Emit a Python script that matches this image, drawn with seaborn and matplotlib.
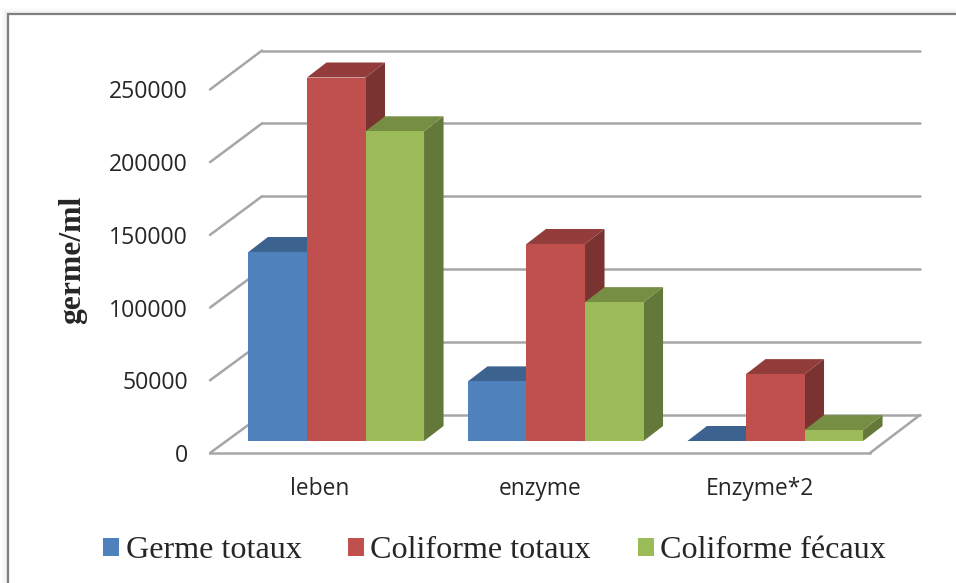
from matplotlib import pyplot as plt
from matplotlib.colors import to_rgb
from matplotlib.patches import Polygon, Rectangle
from matplotlib.transforms import IdentityTransform
import pandas as pd
import seaborn as sns

categories = ['leben', 'enzyme', 'Enzyme*2']
series_names = ['Germe totaux', 'Coliforme totaux', 'Coliforme fécaux']
germe_totaux = [130000, 41000, 0]
coliforme_totaux = [250000, 135500, 46000]
coliforme_fecaux = [213000, 95500, 7500]
y_ticks = [0, 50000, 100000, 150000, 200000, 250000]

W, H = 956, 583
colors = ['#4f81bd', '#c0504d', '#9bbb59']
grid_color = '#a6a6a6'
grid_lw = 1.8
depth_x, depth_y = 19.5, 15


# axes box from pixel edges of the picture
def box(left, top, right, bottom):
    return [left / W, 1 - bottom / H, (right - left) / W, (bottom - top) / H]


def shade(color, f):
    return tuple(c * f for c in to_rgb(color))


df = pd.DataFrame({'cat': categories * 3,
                   'serie': [s for s in series_names for _ in categories],
                   'val': germe_totaux + coliforme_totaux + coliforme_fecaux})

sns.set_style('white')
plt.rcParams['font.family'] = ['Open Sans', 'DejaVu Sans']

fig = plt.figure(figsize=(W / 100, H / 100), dpi=100)

# shadow and frame of the pasted chart
for i in range(7):
    fig.add_artist(Rectangle((8 - i, H - 600), 960, 586 + i, transform=IdentityTransform(),
                             fc=(0, 0, 0, 0.012), ec='none', zorder=-10))
fig.add_artist(Rectangle((8, -20), 970, H + 20 - 14, transform=IdentityTransform(),
                         fc='white', ec='#808080', lw=1.6, zorder=-9))

# back wall
ax_back = fig.add_axes(box(262, 50.5, 920, 415), zorder=1)
ax_back.set_facecolor('none')
ax_back.set_ylim(0, 250000)
ax_back.set_xlim(0, 1)
ax_back.set_xticks([])
ax_back.set_yticks(y_ticks)
ax_back.set_yticklabels([])
ax_back.grid(axis='y', color=grid_color, lw=grid_lw, clip_on=False)
for line in ax_back.get_ygridlines():
    line.set_clip_on(False)
sns.despine(ax=ax_back, left=True, bottom=True)

# front plane, carries the tick labels
ax_front = fig.add_axes(box(210, 89.5, 870, 453), zorder=2)
ax_front.set_facecolor('none')
ax_front.set_ylim(0, 250000)
ax_front.set_xlim(-0.5, 2.5)
ax_front.set_xticks(range(3))
ax_front.set_xticklabels(categories, fontsize=16.4, color='#262626')
ax_front.set_yticks(y_ticks)
ax_front.set_yticklabels([str(t) for t in y_ticks], fontsize=16.6, color='#262626')
ax_front.tick_params(axis='x', length=0, pad=17)
ax_front.tick_params(axis='y', length=0, pad=16)
ax_front.set_ylabel('germe/ml', fontsize=22.8, fontweight='bold', family='Liberation Serif',
                    labelpad=0)
ax_front.yaxis.set_label_coords((87 - 210) / 660, 0.53)
sns.despine(ax=ax_front, left=True, bottom=False)
ax_front.spines['bottom'].set_color(grid_color)
ax_front.spines['bottom'].set_linewidth(grid_lw)

# slanted lines going from the front plane to the wall
for t in y_ticks:
    x0, y0 = ax_front.transData.transform((-0.5, t))
    x1, y1 = ax_back.transData.transform((0, t))
    ax_front.plot([x0, x1], [y0, y1], color=grid_color, lw=grid_lw, transform=IdentityTransform(),
                  clip_on=False)
x0, y0 = ax_front.transData.transform((2.5, 0))
x1, y1 = ax_back.transData.transform((1, 0))
ax_front.plot([x0, x1], [y0, y1], color=grid_color, lw=grid_lw, transform=IdentityTransform(),
              clip_on=False)

# bars
ax = fig.add_axes(box(226.5, 77.5, 885, 441), zorder=3)
ax.set_facecolor('none')
sns.barplot(data=df, x='cat', y='val', hue='serie', order=categories, hue_order=series_names,
            palette=colors, width=0.8, gap=0, saturation=1, errorbar=None, ax=ax, linewidth=0)
ax.set_xlim(-0.5, 2.5)
ax.set_ylim(0, 250000)
ax.set_xlabel('')
ax.set_ylabel('')
ax.set_xticks([])
ax.set_yticks([])
sns.despine(ax=ax, left=True, bottom=True)

# depth faces, painted left to right so that the next bar covers the last one
z = 5
for c in range(len(categories)):
    for s, cont in enumerate(ax.containers):
        bar = cont[c]
        (x0, y0) = ax.transData.transform((bar.get_x(), 0))
        (x1, y1) = ax.transData.transform((bar.get_x() + bar.get_width(), bar.get_height()))
        side = Polygon([(x1, y0), (x1 + depth_x, y0 + depth_y), (x1 + depth_x, y1 + depth_y), (x1, y1)],
                       fc=shade(colors[s], 0.64), ec='none', transform=IdentityTransform(),
                       clip_on=False, zorder=z)
        top = Polygon([(x0, y1), (x0 + depth_x, y1 + depth_y), (x1 + depth_x, y1 + depth_y), (x1, y1)],
                      fc=shade(colors[s], 0.76), ec='none', transform=IdentityTransform(),
                      clip_on=False, zorder=z + 1)
        ax.add_patch(side)
        ax.add_patch(top)
        bar.set_zorder(z + 2)
        bar.set_clip_on(False)
        z += 3

sns.move_legend(ax, 'center', bbox_to_anchor=(494.5 / W, 1 - 551 / H), bbox_transform=fig.transFigure,
                ncol=3, frameon=False, title=None,
                prop={'family': 'Liberation Serif', 'size': 23.1},
                handlelength=0.5, handleheight=0.5, handletextpad=0.2, columnspacing=1.45)

plt.savefig('out.png', dpi=100)
